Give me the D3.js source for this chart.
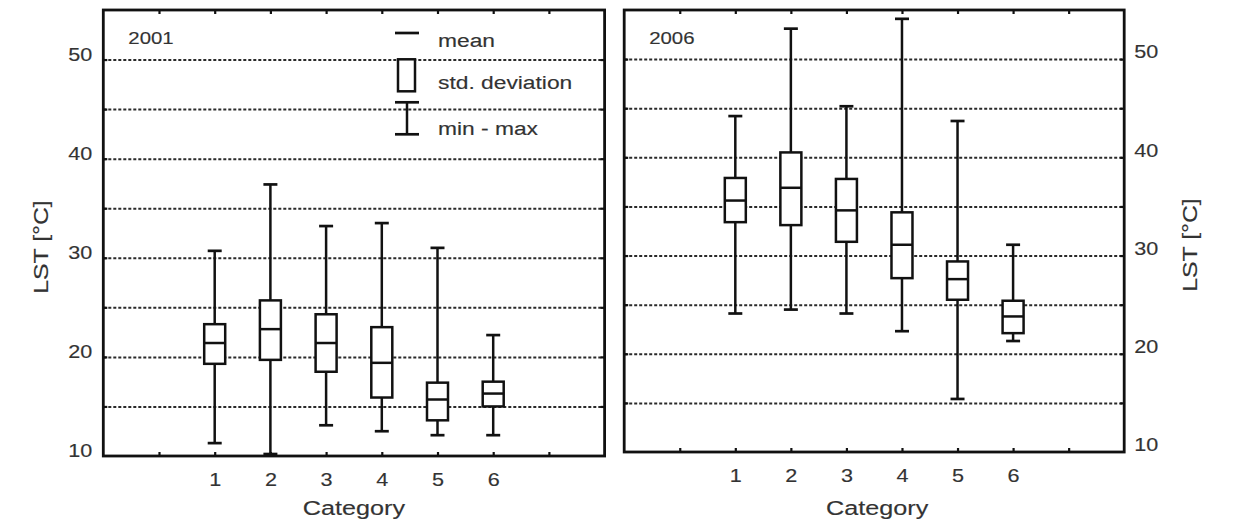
<!DOCTYPE html>
<html>
<head>
<meta charset="utf-8">
<script src="https://cdn.jsdelivr.net/npm/d3@7"></script>
<style>
  html, body { margin: 0; padding: 0; background: #fff; }
  svg { display: block; }
  text { font-family: "Liberation Sans", Arial, Helvetica, sans-serif; fill: #333; stroke: #333; stroke-width: 0.15; }
</style>
</head>
<body>
<svg id="chart" width="1246" height="528"></svg>
<script>
// ---- data ----
const categories = [1, 2, 3, 4, 5, 6];
const frameTicks = [0, 1, 2, 3, 4, 5, 6, 7];
const yTickLabels = [10, 20, 30, 40, 50];
const gridValues = [15, 20, 25, 30, 35, 40, 45, 50];

const min2001    = [11.3, 10.2, 13.1, 12.5, 12.1, 12.1];
const sdLow2001  = [19.3, 19.7, 18.5, 15.9, 13.6, 15.0];
const mean2001   = [21.4, 22.8, 21.4, 19.4, 15.7, 16.3];
const sdHigh2001 = [23.3, 25.7, 24.3, 23.0, 17.4, 17.5];
const max2001    = [30.7, 37.4, 33.2, 33.5, 31.0, 22.2];

const min2006    = [24.1, 24.5, 24.1, 22.3, 15.4, 21.3];
const sdLow2006  = [33.4, 33.1, 31.4, 27.7, 25.5, 22.1];
const mean2006   = [35.6, 36.9, 34.6, 31.1, 27.6, 23.8];
const sdHigh2006 = [37.9, 40.5, 37.8, 34.4, 29.4, 25.4];
const max2006    = [44.2, 53.1, 45.2, 54.1, 43.7, 31.1];

const legendLabels = ["mean", "std. deviation", "min - max"];
const axisTitleX = "Category";
const axisTitleY = "LST [°C]";

// ---- helpers ----
const svg = d3.select("#chart");
svg.append("rect").attr("width", 1246).attr("height", 528).attr("fill", "#fff");

const SX = 1.2;
const INK = "#111";
function stretch(sel, s) {
  sel.each(function () {
    const t = d3.select(this);
    const x = +t.attr("x") || 0;
    t.attr("transform", `translate(${x},0) scale(${s},1) translate(${-x},0)`);
  });
}

function toRows(mins, lows, means, highs, maxs) {
  return categories.map((c, i) => ({ c, min: mins[i], lo: lows[i], mean: means[i], hi: highs[i], max: maxs[i] }));
}

function panel(cfg) {
  const x = d3.scaleLinear().domain([-1, 8]).range([cfg.x0, cfg.x1]);
  const y = d3.scaleLinear().domain([10, 55]).range([cfg.yb, cfg.yt]);
  const g = svg.append("g");

  // grid lines
  const grid = g.append("g")
    .attr("transform", `translate(${cfg.x0},0)`)
    .call(d3.axisLeft(y).tickValues(gridValues).tickSize(-(cfg.x1 - cfg.x0)).tickFormat(""));
  grid.select(".domain").remove();
  grid.selectAll("line")
    .attr("stroke", "#2a2a2a").attr("stroke-width", 2).attr("stroke-dasharray", "3,2");

  // inward ticks on frame
  const tl = g.append("g").attr("transform", `translate(${cfg.x0},0)`)
    .call(d3.axisRight(y).tickValues(gridValues).tickSize(4).tickFormat(""));
  tl.select(".domain").remove();
  const tr = g.append("g").attr("transform", `translate(${cfg.x1},0)`)
    .call(d3.axisLeft(y).tickValues(gridValues).tickSize(4).tickFormat(""));
  tr.select(".domain").remove();
  const tt = g.append("g").attr("transform", `translate(0,${cfg.yt})`)
    .call(d3.axisBottom(x).tickValues(frameTicks).tickSize(4).tickFormat(""));
  tt.select(".domain").remove();
  const tb = g.append("g").attr("transform", `translate(0,${cfg.yb})`)
    .call(d3.axisTop(x).tickValues(frameTicks).tickSize(4).tickFormat(""));
  tb.select(".domain").remove();
  [tl, tr, tt, tb].forEach(a => a.selectAll("line").attr("stroke", INK).attr("stroke-width", 2.2));

  // box plots
  const rows = cfg.rows;
  const boxW = 21, capW = 14, sw = 2.5;
  const bx = g.append("g").selectAll("g").data(rows).join("g");
  bx.append("line")
    .attr("x1", d => x(d.c)).attr("x2", d => x(d.c))
    .attr("y1", d => y(d.min)).attr("y2", d => y(d.max))
    .attr("stroke", INK).attr("stroke-width", sw);
  bx.append("line")
    .attr("x1", d => x(d.c) - capW / 2).attr("x2", d => x(d.c) + capW / 2)
    .attr("y1", d => y(d.max)).attr("y2", d => y(d.max))
    .attr("stroke", INK).attr("stroke-width", 2.7);
  bx.append("line")
    .attr("x1", d => x(d.c) - capW / 2).attr("x2", d => x(d.c) + capW / 2)
    .attr("y1", d => y(d.min)).attr("y2", d => y(d.min))
    .attr("stroke", INK).attr("stroke-width", 2.7);
  bx.append("rect")
    .attr("x", d => x(d.c) - boxW / 2).attr("width", boxW)
    .attr("y", d => y(d.hi)).attr("height", d => y(d.lo) - y(d.hi))
    .attr("fill", "#fff").attr("stroke", INK).attr("stroke-width", sw);
  bx.append("line")
    .attr("x1", d => x(d.c) - boxW / 2).attr("x2", d => x(d.c) + boxW / 2)
    .attr("y1", d => y(d.mean)).attr("y2", d => y(d.mean))
    .attr("stroke", INK).attr("stroke-width", sw);

  // frame
  g.append("rect")
    .attr("x", cfg.x0).attr("y", cfg.yt)
    .attr("width", cfg.x1 - cfg.x0).attr("height", cfg.yb - cfg.yt)
    .attr("fill", "none").attr("stroke", INK).attr("stroke-width", 2.8);

  // x tick labels
  const xa = g.append("g").attr("transform", `translate(0,${cfg.yb})`)
    .call(d3.axisBottom(x).tickValues(categories).tickSize(0).tickPadding(17));
  xa.select(".domain").remove();
  xa.selectAll("text").attr("font-size", 18).attr("fill", null).attr("font-family", null);
  stretch(xa.selectAll("text"), SX);

  // y tick labels
  let ya;
  if (cfg.side === "left") {
    ya = g.append("g").attr("transform", `translate(${cfg.x0},0)`)
      .call(d3.axisLeft(y).tickValues(yTickLabels).tickSize(0).tickPadding(11));
  } else {
    ya = g.append("g").attr("transform", `translate(${cfg.x1},0)`)
      .call(d3.axisRight(y).tickValues(yTickLabels).tickSize(0).tickPadding(10));
  }
  ya.select(".domain").remove();
  ya.selectAll("text").attr("font-size", 18).attr("fill", null).attr("y", cfg.labelDy)
    .attr("font-family", null);
  stretch(ya.selectAll("text"), SX);

  // x title
  g.append("text")
    .attr("x", x(3.5) + cfg.titleDx).attr("y", 515)
    .attr("text-anchor", "middle").attr("font-size", 21)
    .text(axisTitleX)
    .call(stretch, SX);

  // y title
  g.append("text")
    .attr("transform", `translate(${cfg.yTitleX},${cfg.yTitleY}) rotate(-90) scale(1.24,1)`)
    .attr("text-anchor", "middle").attr("font-size", 20)
    .text(axisTitleY);

  // year label
  g.append("text")
    .attr("x", cfg.x0 + 25).attr("y", 44)
    .attr("font-size", 17)
    .text(cfg.year)
    .call(stretch, SX);

  return { g, x, y };
}

const left = panel({
  x0: 103.3, x1: 604.6, yt: 10, yb: 456, side: "left", labelDy: -5,
  rows: toRows(min2001, sdLow2001, mean2001, sdHigh2001, max2001),
  year: "2001", titleDx: 0, yTitleX: 48, yTitleY: 247
});
panel({
  x0: 624.2, x1: 1124.2, yt: 10, yb: 452, side: "right", labelDy: -7,
  rows: toRows(min2006, sdLow2006, mean2006, sdHigh2006, max2006),
  year: "2006", titleDx: 3, yTitleX: 1197, yTitleY: 245
});

// ---- legend (in 2001 panel) ----
const lg = left.g.append("g");
lg.append("line").attr("x1", 395).attr("x2", 419).attr("y1", 33).attr("y2", 33)
  .attr("stroke", INK).attr("stroke-width", 2.7);
lg.append("rect").attr("x", 398).attr("y", 59.3).attr("width", 17).attr("height", 32)
  .attr("fill", "#fff").attr("stroke", INK).attr("stroke-width", 2.5);
lg.append("line").attr("x1", 407).attr("x2", 407).attr("y1", 102.3).attr("y2", 134.3)
  .attr("stroke", INK).attr("stroke-width", 2.5);
lg.append("line").attr("x1", 395).attr("x2", 419).attr("y1", 102.3).attr("y2", 102.3)
  .attr("stroke", INK).attr("stroke-width", 2.7);
lg.append("line").attr("x1", 395).attr("x2", 419).attr("y1", 134.3).attr("y2", 134.3)
  .attr("stroke", INK).attr("stroke-width", 2.7);
const legendY = [47, 89, 135];
lg.selectAll("text.leg").data(legendLabels).join("text")
  .attr("class", "leg")
  .attr("x", 438).attr("y", (d, i) => legendY[i])
  .attr("font-size", 19)
  .text(d => d)
  .call(stretch, SX);
</script>
</body>
</html>
